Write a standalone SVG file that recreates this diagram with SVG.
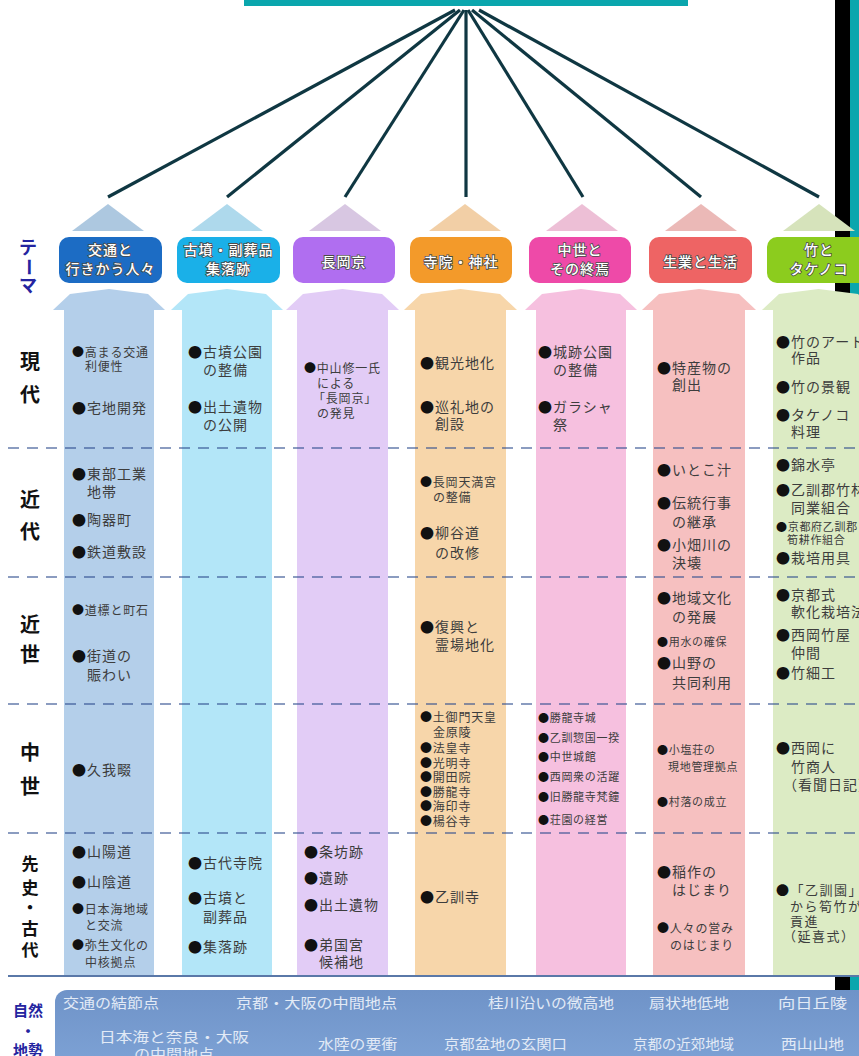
<svg xmlns="http://www.w3.org/2000/svg" width="859" height="1056" viewBox="0 0 859 1056">
<style>
.it{font-family:"Noto Sans CJK JP","Noto Sans",sans-serif;fill:#3d3d3d}
.t{font-size:14px;letter-spacing:1px}
.m{font-size:13px;letter-spacing:1.5px}
.s{font-size:12px;letter-spacing:0.8px}
.xs{font-size:11px;letter-spacing:0.7px}
.b{fill:#111}
.p{font-family:"Noto Sans CJK JP",sans-serif;font-weight:700;font-size:20px;fill:#111;text-anchor:middle}
.p2{font-size:17px}
.lb{font-family:"Noto Sans CJK JP",sans-serif;font-weight:700;fill:#2424a0;text-anchor:middle}
.th{font-family:"Noto Sans CJK JP",sans-serif;font-size:14px;letter-spacing:1px;fill:#fff;stroke:#4a4a4a;stroke-width:1.6px;paint-order:stroke;text-anchor:middle;font-weight:500}
.bd{font-family:"Noto Sans CJK JP",sans-serif;font-size:14px;fill:#e2eaf6}
.dash{stroke:#2c4a8c;stroke-opacity:0.55;stroke-width:1.8;stroke-dasharray:11 8;fill:none}
.con{stroke:#0f3742;stroke-width:3.2;fill:none}
</style>
<rect x="0" y="0" width="859" height="1056" fill="#fff"/>
<rect x="835" y="0" width="15" height="990" fill="#000"/>
<rect x="850" y="0" width="9" height="1002" fill="#0aa6ad"/>
<rect x="244" y="0" width="444" height="6" fill="#0aa6ad"/>

<g id="connectors">
<line class="con" x1="455" y1="10" x2="108" y2="197"/>
<line class="con" x1="460" y1="10" x2="227" y2="197"/>
<line class="con" x1="464" y1="10" x2="345" y2="197"/>
<line class="con" x1="466" y1="10" x2="466" y2="197"/>
<line class="con" x1="468" y1="10" x2="583" y2="197"/>
<line class="con" x1="472" y1="10" x2="701" y2="197"/>
<line class="con" x1="479" y1="10" x2="819" y2="197"/>
</g>

<g id="col1">
<polygon points="72,231 108,204 144,231" fill="#adc8e0"/>
<rect x="59" y="237" width="103" height="46" rx="10" fill="#1c6cc4"/>
<text class="th" x="110.5" y="255">交通と</text>
<text class="th" x="110.5" y="274">行きかう人々</text>
<path d="M53,310 L70,294 L109,289 L148,294 L165,310 Z" fill="#b4cfea"/>
<rect x="64" y="305" width="90" height="670" fill="#b4cfea"/>
</g>
<g id="col2">
<polygon points="191,231 227,204 263,231" fill="#aed9ec"/>
<rect x="177" y="237" width="103" height="46" rx="10" fill="#1ab0e8"/>
<text class="th" x="228.5" y="255">古墳・副葬品</text>
<text class="th" x="228.5" y="274">集落跡</text>
<path d="M171,310 L188,294 L227,289 L266,294 L283,310 Z" fill="#b3e6f8"/>
<rect x="182" y="305" width="90" height="670" fill="#b3e6f8"/>
</g>
<g id="col3">
<polygon points="309,231 345,204 381,231" fill="#d8c7e2"/>
<rect x="293" y="237" width="102" height="46" rx="10" fill="#b06ef0"/>
<text class="th" x="344" y="267">長岡京</text>
<path d="M286,310 L303,294 L342.5,289 L382,294 L399,310 Z" fill="#e2ccf6"/>
<rect x="297" y="305" width="91" height="670" fill="#e2ccf6"/>
</g>
<g id="col4">
<polygon points="429,231 465,204 501,231" fill="#f2cfa6"/>
<rect x="410" y="237" width="102" height="46" rx="10" fill="#f39a2a"/>
<text class="th" x="461" y="267">寺院・神社</text>
<path d="M404,310 L421,294 L460.5,289 L500,294 L517,310 Z" fill="#f7d6aa"/>
<rect x="415" y="305" width="91" height="670" fill="#f7d6aa"/>
</g>
<g id="col5">
<polygon points="546,231 582,204 618,231" fill="#edbfd6"/>
<rect x="529" y="237" width="102" height="46" rx="10" fill="#ee4aa8"/>
<text class="th" x="580" y="255">中世と</text>
<text class="th" x="580" y="274">その終焉</text>
<path d="M525,310 L542,294 L581,289 L620,294 L637,310 Z" fill="#f6c0df"/>
<rect x="536" y="305" width="90" height="670" fill="#f6c0df"/>
</g>
<g id="col6">
<polygon points="665,231 701,204 737,231" fill="#ebb9b7"/>
<rect x="649" y="237" width="103" height="46" rx="10" fill="#ee6464"/>
<text class="th" x="700.5" y="267">生業と生活</text>
<path d="M642,310 L659,294 L699,289 L739,294 L756,310 Z" fill="#f6c0c0"/>
<rect x="653" y="305" width="92" height="670" fill="#f6c0c0"/>
</g>
<g id="col7">
<polygon points="783,231 819,204 855,231" fill="#d6e3bb"/>
<rect x="767" y="237" width="105" height="46" rx="10" fill="#8ccc1e"/>
<text class="th" x="819" y="255">竹と</text>
<text class="th" x="819" y="274">タケノコ</text>
<path d="M762,310 L779,294 L818.5,289 L858,294 L875,310 Z" fill="#dcebc4"/>
<rect x="773" y="305" width="91" height="670" fill="#dcebc4"/>
</g>

<g id="grid">
<line class="dash" x1="8" y1="448" x2="859" y2="448"/>
<line class="dash" x1="8" y1="577" x2="859" y2="577"/>
<line class="dash" x1="8" y1="704" x2="859" y2="704"/>
<line class="dash" x1="8" y1="833" x2="859" y2="833"/>
<line x1="8" y1="976" x2="859" y2="976" stroke="#5a78a8" stroke-width="2"/>
</g>

<g id="labels">
<text class="lb" x="28" y="254" font-size="18">テ</text>
<text class="lb" x="28" y="273" font-size="18" transform="rotate(90 28 267)">ー</text>
<text class="lb" x="28" y="292" font-size="18">マ</text>
<text class="p" x="30" y="369">現</text>
<text class="p" x="30" y="402">代</text>
<text class="p" x="30" y="507">近</text>
<text class="p" x="30" y="539">代</text>
<text class="p" x="30" y="632">近</text>
<text class="p" x="30" y="662">世</text>
<text class="p" x="30" y="760">中</text>
<text class="p" x="30" y="794">世</text>
<text class="p p2" x="30" y="870">先</text>
<text class="p p2" x="30" y="894">史</text>
<text class="p p2" x="30" y="914">・</text>
<text class="p p2" x="30" y="935">古</text>
<text class="p p2" x="30" y="956">代</text>
<text class="lb" x="28" y="1016" font-size="15">自然</text>
<text class="lb" x="28" y="1037" font-size="15">・</text>
<text class="lb" x="28" y="1056" font-size="15">地勢</text>
</g>

<g id="items1" class="it">
<text class="s" x="72" y="357"><tspan class="b">●</tspan>高まる交通<tspan x="85" dy="14">利便性</tspan></text>
<text class="t" x="72" y="413"><tspan class="b">●</tspan>宅地開発</text>
<text class="t" x="72" y="479"><tspan class="b">●</tspan>東部工業<tspan x="87" dy="18">地帯</tspan></text>
<text class="t" x="72" y="525"><tspan class="b">●</tspan>陶器町</text>
<text class="t" x="72" y="557"><tspan class="b">●</tspan>鉄道敷設</text>
<text class="s" x="72" y="615"><tspan class="b">●</tspan>道標と町石</text>
<text class="t" x="72" y="661"><tspan class="b">●</tspan>街道の<tspan x="87" dy="19">賑わい</tspan></text>
<text class="t" x="72" y="775"><tspan class="b">●</tspan>久我畷</text>
<text class="t" x="72" y="857"><tspan class="b">●</tspan>山陽道</text>
<text class="t" x="72" y="887"><tspan class="b">●</tspan>山陰道</text>
<text class="s" x="72" y="914"><tspan class="b">●</tspan>日本海地域<tspan x="85" dy="16">と交流</tspan></text>
<text class="s" x="72" y="950"><tspan class="b">●</tspan>弥生文化の<tspan x="85" dy="17">中核拠点</tspan></text>
</g>
<g id="items2" class="it">
<text class="t" x="188" y="357"><tspan class="b">●</tspan>古墳公園<tspan x="203" dy="18">の整備</tspan></text>
<text class="t" x="188" y="412"><tspan class="b">●</tspan>出土遺物<tspan x="203" dy="18">の公開</tspan></text>
<text class="t" x="188" y="868"><tspan class="b">●</tspan>古代寺院</text>
<text class="t" x="188" y="903"><tspan class="b">●</tspan>古墳と<tspan x="203" dy="19">副葬品</tspan></text>
<text class="t" x="188" y="952"><tspan class="b">●</tspan>集落跡</text>
</g>
<g id="items3" class="it">
<text class="s" x="304" y="373"><tspan class="b">●</tspan>中山修一氏<tspan x="317" dy="15">による</tspan><tspan x="313" dy="15">「長岡京」</tspan><tspan x="317" dy="15">の発見</tspan></text>
<text class="t" x="304" y="857"><tspan class="b">●</tspan>条坊跡</text>
<text class="t" x="304" y="883"><tspan class="b">●</tspan>遺跡</text>
<text class="t" x="304" y="910"><tspan class="b">●</tspan>出土遺物</text>
<text class="t" x="304" y="950"><tspan class="b">●</tspan>弟国宮<tspan x="319" dy="17">候補地</tspan></text>
</g>
<g id="items4" class="it">
<text class="t" x="420" y="368"><tspan class="b">●</tspan>観光地化</text>
<text class="t" x="420" y="412"><tspan class="b">●</tspan>巡礼地の<tspan x="435" dy="17">創設</tspan></text>
<text class="s" x="420" y="487"><tspan class="b">●</tspan>長岡天満宮<tspan x="433" dy="15">の整備</tspan></text>
<text class="t" x="420" y="538"><tspan class="b">●</tspan>柳谷道<tspan x="435" dy="20">の改修</tspan></text>
<text class="t" x="420" y="632"><tspan class="b">●</tspan>復興と<tspan x="435" dy="18">霊場地化</tspan></text>
<text class="s" x="420" y="722"><tspan class="b">●</tspan>土御門天皇<tspan x="433" dy="15">金原陵</tspan></text>
<text class="s" x="420" y="753"><tspan class="b">●</tspan>法皇寺</text>
<text class="s" x="420" y="768"><tspan class="b">●</tspan>光明寺</text>
<text class="s" x="420" y="782"><tspan class="b">●</tspan>開田院</text>
<text class="s" x="420" y="797"><tspan class="b">●</tspan>勝龍寺</text>
<text class="s" x="420" y="811"><tspan class="b">●</tspan>海印寺</text>
<text class="s" x="420" y="826"><tspan class="b">●</tspan>楊谷寺</text>
<text class="t" x="420" y="902"><tspan class="b">●</tspan>乙訓寺</text>
</g>
<g id="items5" class="it">
<text class="t" x="538" y="357"><tspan class="b">●</tspan>城跡公園<tspan x="553" dy="18">の整備</tspan></text>
<text class="t" x="538" y="412"><tspan class="b">●</tspan>ガラシャ<tspan x="553" dy="18">祭</tspan></text>
<text class="xs" x="538" y="722"><tspan class="b">●</tspan>勝龍寺城</text>
<text class="xs" x="538" y="742"><tspan class="b">●</tspan>乙訓惣国一揆</text>
<text class="xs" x="538" y="761"><tspan class="b">●</tspan>中世城館</text>
<text class="xs" x="538" y="781"><tspan class="b">●</tspan>西岡衆の活躍</text>
<text class="xs" x="538" y="801"><tspan class="b">●</tspan>旧勝龍寺梵鐘</text>
<text class="xs" x="538" y="824"><tspan class="b">●</tspan>荘園の経営</text>
</g>
<g id="items6" class="it">
<text class="t" x="657" y="373"><tspan class="b">●</tspan>特産物の<tspan x="672" dy="17">創出</tspan></text>
<text class="t" x="657" y="475"><tspan class="b">●</tspan>いとこ汁</text>
<text class="t" x="657" y="508"><tspan class="b">●</tspan>伝統行事<tspan x="672" dy="19">の継承</tspan></text>
<text class="t" x="657" y="550"><tspan class="b">●</tspan>小畑川の<tspan x="672" dy="18">決壊</tspan></text>
<text class="t" x="657" y="603"><tspan class="b">●</tspan>地域文化<tspan x="672" dy="19">の発展</tspan></text>
<text class="xs" x="657" y="646"><tspan class="b">●</tspan>用水の確保</text>
<text class="t" x="657" y="668"><tspan class="b">●</tspan>山野の<tspan x="672" dy="20">共同利用</tspan></text>
<text class="xs" x="657" y="754"><tspan class="b">●</tspan>小塩荘の<tspan x="668" dy="17">現地管理拠点</tspan></text>
<text class="xs" x="657" y="806"><tspan class="b">●</tspan>村落の成立</text>
<text class="t" x="657" y="877"><tspan class="b">●</tspan>稲作の<tspan x="672" dy="18">はじまり</tspan></text>
<text class="s" x="657" y="933"><tspan class="b">●</tspan>人々の営み<tspan x="670" dy="17">のはじまり</tspan></text>
</g>
<g id="items7" class="it">
<text class="t" x="776" y="347"><tspan class="b">●</tspan>竹のアート<tspan x="791" dy="16">作品</tspan></text>
<text class="t" x="776" y="392"><tspan class="b">●</tspan>竹の景観</text>
<text class="t" x="776" y="420"><tspan class="b">●</tspan>タケノコ<tspan x="791" dy="17">料理</tspan></text>
<text class="t" x="776" y="470"><tspan class="b">●</tspan>錦水亭</text>
<text class="t" x="776" y="495"><tspan class="b">●</tspan>乙訓郡竹林<tspan x="791" dy="18">同業組合</tspan></text>
<text class="xs" x="776" y="531"><tspan class="b">●</tspan>京都府乙訓郡<tspan x="787" dy="13">筍耕作組合</tspan></text>
<text class="t" x="776" y="563"><tspan class="b">●</tspan>栽培用具</text>
<text class="t" x="776" y="600"><tspan class="b">●</tspan>京都式<tspan x="791" dy="17">軟化栽培法</tspan></text>
<text class="t" x="776" y="640"><tspan class="b">●</tspan>西岡竹屋<tspan x="791" dy="18">仲間</tspan></text>
<text class="t" x="776" y="678"><tspan class="b">●</tspan>竹細工</text>
<text class="t" x="776" y="753"><tspan class="b">●</tspan>西岡に<tspan x="791" dy="19">竹商人</tspan><tspan x="783" dy="18">（看聞日記）</tspan></text>
<text class="m" x="776" y="895"><tspan class="b">●</tspan>「乙訓園」<tspan x="790" dy="16">から筍竹が</tspan><tspan x="790" dy="15">貢進</tspan><tspan x="783" dy="15">（延喜式）</tspan></text>
</g>

<g id="terrain">
<defs>
<linearGradient id="bg" x1="0" y1="0" x2="0" y2="1">
<stop offset="0" stop-color="#6f93c8"/>
<stop offset="1" stop-color="#80a5d8"/>
</linearGradient>
</defs>
<rect x="55" y="990" width="830" height="90" rx="12" fill="url(#bg)"/>
<text class="bd" x="63" y="1008" textLength="96" lengthAdjust="spacingAndGlyphs">交通の結節点</text>
<text class="bd" x="236" y="1008" textLength="161" lengthAdjust="spacingAndGlyphs">京都・大阪の中間地点</text>
<text class="bd" x="488" y="1008" textLength="126" lengthAdjust="spacingAndGlyphs">桂川沿いの微高地</text>
<text class="bd" x="649" y="1008" textLength="80" lengthAdjust="spacingAndGlyphs">扇状地低地</text>
<text class="bd" x="778" y="1008" textLength="69" lengthAdjust="spacingAndGlyphs">向日丘陵</text>
<text class="bd" x="99" y="1042" textLength="150" lengthAdjust="spacingAndGlyphs">日本海と奈良・大阪</text>
<text class="bd" x="134" y="1059" textLength="80" lengthAdjust="spacingAndGlyphs">の中間地点</text>
<text class="bd" x="318" y="1049" textLength="79" lengthAdjust="spacingAndGlyphs">水陸の要衝</text>
<text class="bd" x="444" y="1049" textLength="123" lengthAdjust="spacingAndGlyphs">京都盆地の玄関口</text>
<text class="bd" x="633" y="1049" textLength="101" lengthAdjust="spacingAndGlyphs">京都の近郊地域</text>
<text class="bd" x="781" y="1049" textLength="63" lengthAdjust="spacingAndGlyphs">西山山地</text>
</g>
</svg>
